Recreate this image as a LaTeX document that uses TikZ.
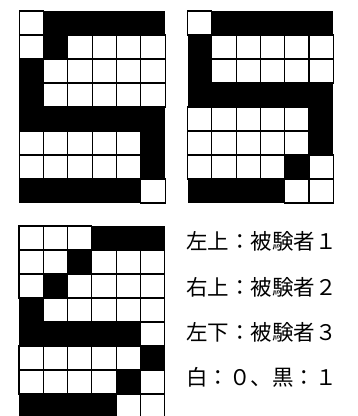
\documentclass[tikz,border=0pt]{standalone}
\usepackage{fontspec}
\newfontfamily\jpfont{Noto Sans CJK JP}
\usetikzlibrary{positioning}

\begin{document}
\begin{tikzpicture}[
    x=1pt, y=-1pt,
    board/.style={fill=black},
    cell/.style={fill=white, draw=black, line width=1.1pt},
    legend/.style={anchor=west, inner sep=0pt, font=\jpfont\fontsize{21.5}{21.5}\selectfont}
]
    \clip (0,0) rectangle (358,416);

    % Subject 1 (top left)
    \begin{scope}[shift={(19.3,11)}]
        \fill[board] (0,0) rectangle (145.8,192);
        \foreach \row [count=\r from 0] in {{0,1,1,1,1,1},{0,1,0,0,0,0},{1,0,0,0,0,0},{1,0,0,0,0,0},{1,1,1,1,1,1},{0,0,0,0,0,1},{0,0,0,0,0,1},{1,1,1,1,1,0}}
            \foreach \v [count=\c from 0] in \row
                {\ifnum\v=0 \draw[cell] (\c*24.3,\r*24) rectangle ++(24.3,24);\fi}
    \end{scope}

    % Subject 2 (top right)
    \begin{scope}[shift={(187.5,11)}]
        \fill[board] (0,0) rectangle (145.8,192);
        \foreach \row [count=\r from 0] in {{0,1,1,1,1,1},{1,0,0,0,0,0},{1,0,0,0,0,0},{1,1,1,1,1,1},{0,0,0,0,0,1},{0,0,0,0,0,1},{0,0,0,0,1,0},{1,1,1,1,0,0}}
            \foreach \v [count=\c from 0] in \row
                {\ifnum\v=0 \draw[cell] (\c*24.3,\r*24) rectangle ++(24.3,24);\fi}
    \end{scope}

    % Subject 3 (bottom left)
    \begin{scope}[shift={(19,226)}]
        \fill[board] (0,0) rectangle (145.8,192);
        \foreach \row [count=\r from 0] in {{0,0,0,1,1,1},{0,0,1,0,0,0},{0,1,0,0,0,0},{1,0,0,0,0,0},{1,1,1,1,1,0},{0,0,0,0,0,1},{0,0,0,0,1,0},{1,1,1,1,0,0}}
            \foreach \v [count=\c from 0] in \row
                {\ifnum\v=0 \draw[cell] (\c*24.3,\r*24) rectangle ++(24.3,24);\fi}
    \end{scope}

    % Legend
    \node[legend] (tl) at (186,241) {左上：被験者１};
    \node[legend] (tr) at (186,287) {右上：被験者２};
    \node[legend] (bl) at (186,332) {左下：被験者３};
    \node[legend] (key) at (186,377) {白：０、黒：１};

\end{tikzpicture}
\end{document}
